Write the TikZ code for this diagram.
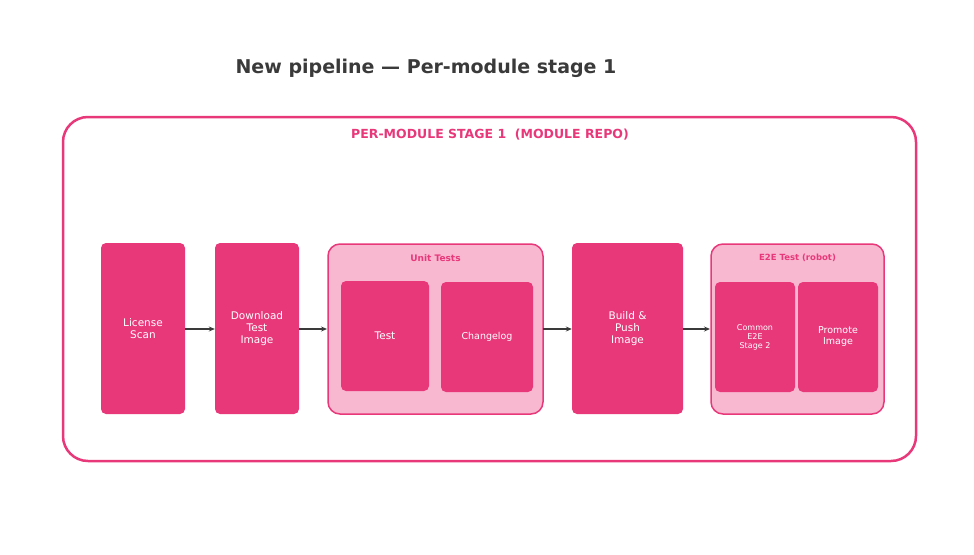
\documentclass[tikz,border=0pt]{standalone}
\usepackage{fontspec}
\setmainfont{DejaVu Sans}
\usetikzlibrary{arrows.meta}
\definecolor{pk}{HTML}{E8387A}
\definecolor{lpk}{HTML}{F8B8D0}
\definecolor{dg}{HTML}{3A3A3A}
\begin{document}
\begin{tikzpicture}[x=1pt,y=-1pt,
 box/.style={fill=pk,draw=none,rounded corners=5pt,text=white,align=center,font=\fontsize{10.5}{12}\selectfont,inner sep=0pt},
 grp/.style={fill=lpk,draw=pk,line width=1.5pt,rounded corners=12pt},
 glab/.style={text=pk,font=\bfseries\fontsize{9}{11}\selectfont},
 arr/.style={-{Stealth[length=6pt,width=5pt]},draw=dg,line width=1.3pt}]
\useasboundingbox (0,0) rectangle (974,554);
\node[text=dg,font=\bfseries\fontsize{19}{23}\selectfont] (title) at (426,68) {New pipeline — Per-module stage 1};
\draw[draw=pk,line width=2.5pt,rounded corners=25pt] (63,117) rectangle (916,461);
\node[text=pk,font=\bfseries\fontsize{12.5}{15}\selectfont] (olab) at (490,135) {PER-MODULE STAGE 1\ \ (MODULE REPO)};
\node[box,minimum width=84pt,minimum height=171pt] (lic) at (143,328.5) {License\\Scan};
\node[box,minimum width=84pt,minimum height=171pt] (dl) at (257,328.5) {Download\\Test\\Image};
\draw[grp] (328,244) rectangle (543,414);
\node[glab] (ul) at (435.5,258) {Unit Tests};
\node[box,minimum width=88pt,minimum height=110pt] (test) at (385,336) {Test};
\node[box,minimum width=92pt,minimum height=110pt,font=\fontsize{9.5}{11}\selectfont] (ch) at (487,337) {Changelog};
\node[box,minimum width=111pt,minimum height=171pt] (bp) at (627.5,328.5) {Build \&\\Push\\Image};
\draw[grp] (711,244) rectangle (884,414);
\node[glab,font=\bfseries\fontsize{8.5}{10}\selectfont] (el) at (797.5,258) {E2E Test (robot)};
\node[box,minimum width=80pt,minimum height=110pt,font=\fontsize{8}{9}\selectfont] (cm) at (755,337) {Common\\E2E\\Stage 2};
\node[box,minimum width=80pt,minimum height=110pt,font=\fontsize{9.5}{11}\selectfont] (pr) at (838,337) {Promote\\Image};
\coordinate (u1) at (327,329); \coordinate (u2) at (543,329);
\coordinate (e1) at (710,329);
\draw[arr] (lic.east|-u1) -- (dl.west|-u1);
\draw[arr] (dl.east|-u1) -- (u1);
\draw[arr] (u2) -- (bp.west|-u1);
\draw[arr] (bp.east|-u1) -- (e1);
\end{tikzpicture}
\end{document}
